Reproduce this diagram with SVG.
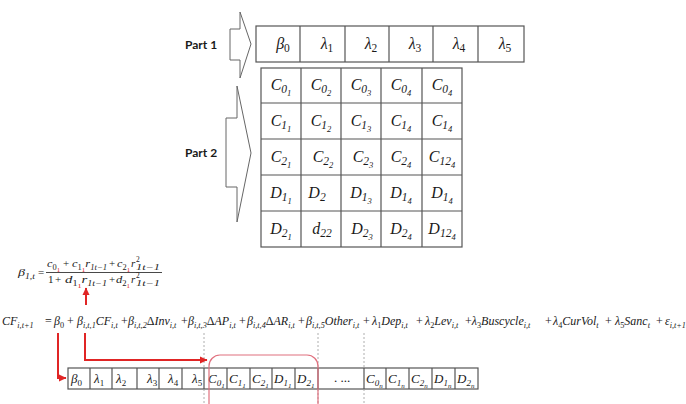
<svg xmlns="http://www.w3.org/2000/svg" width="686" height="404" viewBox="0 0 686 404">
<defs>
<style>
.m{font-family:"Liberation Serif","DejaVu Serif",serif;font-style:italic;fill:#1a1a1a}
.u{font-style:normal}
.lbl{font-family:Lato,"Liberation Sans",sans-serif;font-weight:bold;font-size:12px;fill:#1a1a1a}
.cell{fill:#fff;stroke:#555;stroke-width:1.2}
.blk{fill:#fff;stroke:#666;stroke-width:1}
.red{fill:none;stroke:#e02525;stroke-width:2}
.dash{stroke:#999;stroke-width:0.8;stroke-dasharray:2,2}
.r{fill:#e02525}
.c1{font-size:16px}
.c2{font-size:11.5px}
.c3{font-size:8.5px}
.eq{font-size:12px}
.es{font-size:8.2px}
.f{font-size:11px}
.fs{font-size:7.5px}
.fss{font-size:6px}
.b{font-size:13px}
.bs{font-size:9px}
.bss{font-size:7px}
</style>
<marker id="ah" markerWidth="8" markerHeight="8" refX="7" refY="4" orient="auto" markerUnits="userSpaceOnUse">
<path d="M0,0.5 L7.5,4 L0,7.5 Z" fill="#e02525"/>
</marker>
</defs>

<g id="part1">
<polygon class="blk" points="230,29 240,29 240,12 251,44 240,78 240,60 230,60"/>
<text class="lbl" x="185" y="49">Part 1</text>
<rect class="cell" x="256" y="26" width="268" height="36"/>
<path class="cell" d="M300,26V62M345,26V62M389,26V62M433,26V62M478,26V62"/>
<g class="m c1" text-anchor="middle">
<text x="283" y="49">β<tspan class="c2 u" dy="3">0</tspan></text>
<text x="327" y="49">λ<tspan class="c2 u" dy="3">1</tspan></text>
<text x="371" y="49">λ<tspan class="c2 u" dy="3">2</tspan></text>
<text x="415" y="49">λ<tspan class="c2 u" dy="3">3</tspan></text>
<text x="459" y="49">λ<tspan class="c2 u" dy="3">4</tspan></text>
<text x="505" y="49">λ<tspan class="c2 u" dy="3">5</tspan></text>
</g>
</g>

<g id="part2">
<polygon class="blk" points="226,118 237,118 237,86 251,153 237,222 237,187 226,187"/>
<text class="lbl" x="185" y="157">Part 2</text>
<rect class="cell" x="261" y="68" width="201" height="179"/>
<path class="cell" d="M301,68V247M341,68V247M381,68V247M422,68V247M261,103H462M261,139H462M261,175H462M261,211H462"/>
<g class="m c1" text-anchor="middle">
<text x="281" y="90">C<tspan class="c2" dy="3">0</tspan><tspan class="c3" dy="3">1</tspan></text>
<text x="321" y="90">C<tspan class="c2" dy="3">0</tspan><tspan class="c3" dy="3">2</tspan></text>
<text x="361" y="90">C<tspan class="c2" dy="3">0</tspan><tspan class="c3" dy="3">3</tspan></text>
<text x="401" y="90">C<tspan class="c2" dy="3">0</tspan><tspan class="c3" dy="3">4</tspan></text>
<text x="442" y="90">C<tspan class="c2" dy="3">0</tspan><tspan class="c3" dy="3">4</tspan></text>

<text x="281" y="126">C<tspan class="c2" dy="3">1</tspan><tspan class="c3" dy="3">1</tspan></text>
<text x="321" y="126">C<tspan class="c2" dy="3">1</tspan><tspan class="c3" dy="3">2</tspan></text>
<text x="361" y="126">C<tspan class="c2" dy="3">1</tspan><tspan class="c3" dy="3">3</tspan></text>
<text x="401" y="126">C<tspan class="c2" dy="3">1</tspan><tspan class="c3" dy="3">4</tspan></text>
<text x="442" y="126">C<tspan class="c2" dy="3">1</tspan><tspan class="c3" dy="3">4</tspan></text>

<text x="281" y="162">C<tspan class="c2" dy="3">2</tspan><tspan class="c3" dy="3">1</tspan></text>
<text x="323" y="162">C<tspan class="c2" dy="3">2</tspan><tspan class="c3" dy="3">2</tspan></text>
<text x="363" y="162">C<tspan class="c2" dy="3">2</tspan><tspan class="c3" dy="3">3</tspan></text>
<text x="401" y="162">C<tspan class="c2" dy="3">2</tspan><tspan class="c3" dy="3">4</tspan></text>
<text x="442" y="162">C<tspan class="c2" dy="3">12</tspan><tspan class="c3" dy="3">4</tspan></text>

<text x="281" y="198">D<tspan class="c2" dy="3">1</tspan><tspan class="c3" dy="3">1</tspan></text>
<text x="317" y="198">D<tspan class="c2" dy="3">2</tspan></text>
<text x="361" y="198">D<tspan class="c2" dy="3">1</tspan><tspan class="c3" dy="3">3</tspan></text>
<text x="401" y="198">D<tspan class="c2" dy="3">1</tspan><tspan class="c3" dy="3">4</tspan></text>
<text x="442" y="198">D<tspan class="c2" dy="3">1</tspan><tspan class="c3" dy="3">4</tspan></text>

<text x="281" y="234">D<tspan class="c2" dy="3">2</tspan><tspan class="c3" dy="3">1</tspan></text>
<text x="322" y="234">d<tspan class="c2" dy="3">22</tspan></text>
<text x="362" y="234">D<tspan class="c2" dy="3">2</tspan><tspan class="c3" dy="3">3</tspan></text>
<text x="401" y="234">D<tspan class="c2" dy="3">2</tspan><tspan class="c3" dy="3">4</tspan></text>
<text x="442" y="234">D<tspan class="c2" dy="3">12</tspan><tspan class="c3" dy="3">4</tspan></text>
</g>
</g>

<g id="beta-formula" class="m f">
<text x="18" y="276" textLength="17" lengthAdjust="spacingAndGlyphs">β<tspan class="fs" dy="2.5">1,t</tspan></text>
<text class="u" x="38" y="276">=</text>
<text x="47" y="267" textLength="13" lengthAdjust="spacingAndGlyphs">c<tspan class="fs u" dy="2.5">0</tspan><tspan class="fss u r" dy="2">1</tspan></text>
<text class="u" x="63" y="267">+</text>
<text x="72" y="267" textLength="35" lengthAdjust="spacingAndGlyphs">c<tspan class="fs u" dy="2.5">1</tspan><tspan class="fss u r" dy="2">1</tspan><tspan dy="-4.5">r</tspan><tspan class="fs" dy="2.5">1t−1</tspan></text>
<text class="u" x="109" y="267">+</text>
<text x="117" y="267" textLength="13" lengthAdjust="spacingAndGlyphs">c<tspan class="fs u" dy="2.5">2</tspan><tspan class="fss u r" dy="2">1</tspan></text>
<text x="131" y="267">r</text>
<text class="fs u" x="136" y="262">2</text>
<text class="fs" x="136" y="269.5" textLength="24" lengthAdjust="spacingAndGlyphs">1t−1</text>
<line x1="46" y1="272.5" x2="162" y2="272.5" stroke="#1a1a1a" stroke-width="0.8"/>
<text class="u" x="48" y="283">1</text>
<text class="u" x="55" y="283">+</text>
<text x="65" y="283" textLength="42" lengthAdjust="spacingAndGlyphs">d<tspan class="fs u" dy="2.5">1</tspan><tspan class="fss u r" dy="2">1</tspan><tspan dy="-4.5">r</tspan><tspan class="fs" dy="2.5">1t−1</tspan></text>
<text class="u" x="109" y="283">+</text>
<text x="116" y="283" textLength="14" lengthAdjust="spacingAndGlyphs">d<tspan class="fs u" dy="2.5">2</tspan><tspan class="fss u r" dy="2">1</tspan></text>
<text x="131" y="283">r</text>
<text class="fs u" x="136" y="278">2</text>
<text class="fs" x="136" y="285.5" textLength="24" lengthAdjust="spacingAndGlyphs">1t−1</text>
</g>

<g id="main-equation" class="m eq">
<text><tspan x="2" y="325">CF</tspan><tspan class="es" y="328">i,t+1</tspan><tspan class="u" x="45" y="325">=</tspan><tspan x="54" y="325">β</tspan><tspan class="es u" y="328">0</tspan><tspan class="u" x="67" y="325">+</tspan><tspan x="77" y="325">β</tspan><tspan class="es" y="328">i,t,1</tspan><tspan y="325">CF</tspan><tspan class="es" y="328">i,t</tspan><tspan class="u" x="121" y="325">+</tspan><tspan x="128" y="325">β</tspan><tspan class="es" y="328">i,t,2</tspan><tspan class="u" y="325">Δ</tspan><tspan y="325">Inv</tspan><tspan class="es" y="328">i,t</tspan><tspan class="u" x="181" y="325">+</tspan><tspan x="188" y="325">β</tspan><tspan class="es" y="328">i,t,3</tspan><tspan class="u" y="325">Δ</tspan><tspan y="325">AP</tspan><tspan class="es" y="328">i,t</tspan><tspan class="u" x="239" y="325">+</tspan><tspan x="247" y="325">β</tspan><tspan class="es" y="328">i,t,4</tspan><tspan class="u" y="325">Δ</tspan><tspan y="325">AR</tspan><tspan class="es" y="328">i,t</tspan><tspan class="u" x="298" y="325">+</tspan><tspan x="306" y="325">β</tspan><tspan class="es" y="328">i,t,5</tspan><tspan y="325">Other</tspan><tspan class="es" y="328">i,t</tspan><tspan class="u" x="363" y="325">+</tspan><tspan x="372" y="325">λ</tspan><tspan class="es u" y="328">1</tspan><tspan y="325">Dep</tspan><tspan class="es" y="328">i,t</tspan><tspan class="u" x="416" y="325">+</tspan><tspan x="425" y="325">λ</tspan><tspan class="es u" y="328">2</tspan><tspan y="325">Lev</tspan><tspan class="es" y="328">i,t</tspan><tspan class="u" x="465" y="325">+</tspan><tspan y="325">λ</tspan><tspan class="es u" y="328">3</tspan><tspan y="325">Buscycle</tspan><tspan class="es" y="328">i,t</tspan><tspan class="u" x="545" y="325">+</tspan><tspan x="553" y="325">λ</tspan><tspan class="es u" y="328">4</tspan><tspan y="325">CurVol</tspan><tspan class="es" y="328">t</tspan><tspan class="u" x="605" y="325">+</tspan><tspan x="615" y="325">λ</tspan><tspan class="es u" y="328">5</tspan><tspan y="325">Sanc</tspan><tspan class="es" y="328">t</tspan><tspan class="u" x="656" y="325">+</tspan><tspan x="665" y="325">ε</tspan><tspan class="es" y="328">i,t+1</tspan></text>
</g>

<g id="param-vector">
<rect class="cell" x="68" y="368" width="410" height="21"/>
<path class="cell" d="M90,368V389M112,368V389M137,368V389M159,368V389M182,368V389M204,368V389M227,368V389M250,368V389M272,368V389M295,368V389M318,368V389M364,368V389M386,368V389M409,368V389M432,368V389M455,368V389"/>
<g class="m b">
<text x="71" y="383">β<tspan class="bs u" dy="2.5">0</tspan></text>
<text x="94" y="383">λ<tspan class="bs u" dy="2.5">1</tspan></text>
<text x="116" y="383">λ<tspan class="bs u" dy="2.5">2</tspan></text>
<text x="147" y="383">λ<tspan class="bs u" dy="2.5">3</tspan></text>
<text x="168" y="383">λ<tspan class="bs u" dy="2.5">4</tspan></text>
<text x="192" y="383">λ<tspan class="bs u" dy="2.5">5</tspan></text>
<text x="208" y="383">C<tspan class="bs" dy="2.5">0</tspan><tspan class="bss" dy="2">1</tspan></text>
<text x="229" y="383">C<tspan class="bs" dy="2.5">1</tspan><tspan class="bss" dy="2">1</tspan></text>
<text x="252" y="383">C<tspan class="bs" dy="2.5">2</tspan><tspan class="bss" dy="2">1</tspan></text>
<text x="274" y="383">D<tspan class="bs" dy="2.5">1</tspan><tspan class="bss" dy="2">1</tspan></text>
<text x="297" y="383">D<tspan class="bs" dy="2.5">2</tspan><tspan class="bss" dy="2">1</tspan></text>
<text class="u" x="334" y="382">. ...</text>
<text x="366" y="383">C<tspan class="bs" dy="2.5">0</tspan><tspan class="bss" dy="2">n</tspan></text>
<text x="388" y="383">C<tspan class="bs" dy="2.5">1</tspan><tspan class="bss" dy="2">n</tspan></text>
<text x="411" y="383">C<tspan class="bs" dy="2.5">2</tspan><tspan class="bss" dy="2">n</tspan></text>
<text x="434" y="383">D<tspan class="bs" dy="2.5">1</tspan><tspan class="bss" dy="2">n</tspan></text>
<text x="457" y="383">D<tspan class="bs" dy="2.5">2</tspan><tspan class="bss" dy="2">n</tspan></text>
</g>
<line class="dash" x1="204" y1="333" x2="204" y2="404"/>
<line class="dash" x1="318" y1="333" x2="318" y2="404"/>
<line class="dash" x1="364" y1="333" x2="364" y2="404"/>
<rect x="209" y="355" width="109" height="60" rx="11" fill="none" stroke="#e0707e" stroke-width="1.2"/>
</g>

<g id="connectors">
<path class="red" d="M86,305V288" marker-end="url(#ah)"/>
<path class="red" d="M58,333V378H66" marker-end="url(#ah)"/>
<path class="red" d="M85,333V360H207" marker-end="url(#ah)"/>
</g>
</svg>
